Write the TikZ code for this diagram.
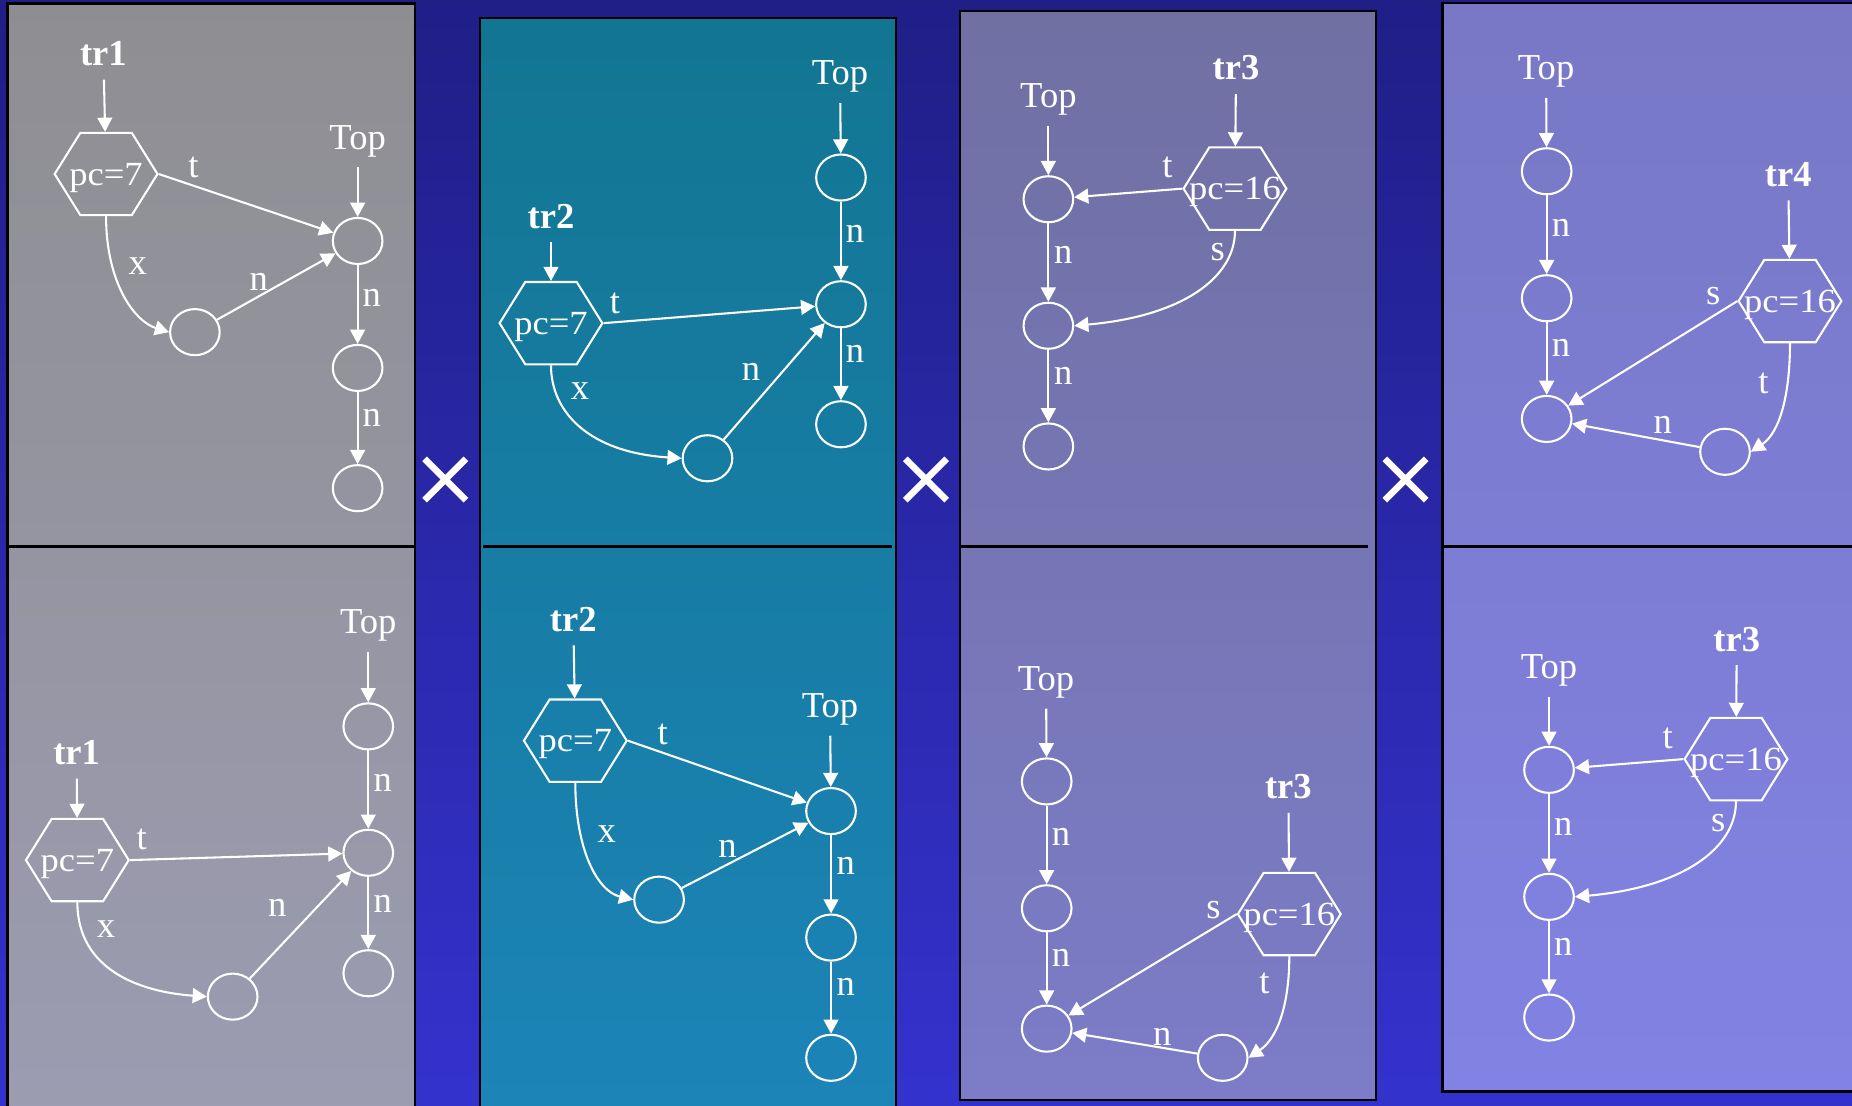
\documentclass[tikz,border=0pt]{standalone}
\usepackage{fontspec}
\setmainfont{Liberation Serif}
\usetikzlibrary{arrows.meta,shapes.geometric}
\definecolor{bgtop}{RGB}{32,30,135}
\definecolor{bgbot}{RGB}{52,50,205}
\definecolor{pAtop}{RGB}{142,142,146}
\definecolor{pAbot}{RGB}{156,156,178}
\definecolor{pBtop}{RGB}{18,118,146}
\definecolor{pBbot}{RGB}{28,132,184}
\definecolor{pCtop}{RGB}{112,112,163}
\definecolor{pCbot}{RGB}{124,124,200}
\definecolor{pDtop}{RGB}{120,120,198}
\definecolor{pDbot}{RGB}{130,130,228}

\begin{document}
\begin{tikzpicture}[x=0.01cm,y=-0.01cm,
  every node/.style={text=white,font=\fontsize{8.8}{10}\selectfont},
  lbl/.style={inner sep=0.11cm,text height=0.235cm,text depth=0.037cm},
  trlbl/.style={inner sep=0.11cm,font=\fontsize{8.8}{10}\selectfont\bfseries},
  hexnode/.style={draw=white,line width=0.5pt,regular polygon,regular polygon sides=6,minimum size=0.87cm,inner sep=0pt,text height=0.24cm,text depth=0.035cm,yscale=0.925},
  dot/.style={draw=white,line width=0.5pt,ellipse,minimum width=0.42cm,minimum height=0.39cm,inner sep=0pt},
  elbl/.style={inner sep=0pt},
  arr/.style={white,line width=0.5pt,-{Triangle[length=0.12cm,width=0.125cm]}},
  panel/.style={draw=black,line width=0.6pt},
  cross/.style={white,line width=0.055cm}]
\useasboundingbox (0,0) rectangle (1568,936);
\clip (0,0) rectangle (1568,936);
\shade[top color=bgtop,bottom color=bgbot] (0,0) rectangle (1568,936);
\shade[panel,top color=pAtop,bottom color=pAbot] (6.2,3) rectangle (351.4,950);
\shade[panel,top color=pBtop,bottom color=pBbot] (406.4,15.1) rectangle (758.6,950);
\shade[panel,top color=pCtop,bottom color=pCbot] (812.8,9.1) rectangle (1165,931.5);
\shade[panel,top color=pDtop,bottom color=pDbot] (1221.5,2.4) rectangle (1590,924);
\draw[panel] (6.2,462.6) -- (351.4,462.6);
\draw[panel] (409,462.6) -- (755,462.6);
\draw[panel] (813,462.6) -- (1158,462.6);
\draw[panel] (1221.5,462.6) -- (1590,462.6);
\draw[cross] (359.5,388.5) -- (394.5,423.5) (359.5,423.5) -- (394.5,388.5);
\draw[cross] (766.5,388.5) -- (801.5,423.5) (766.5,423.5) -- (801.5,388.5);
\draw[cross] (1172.5,388.5) -- (1207.5,423.5) (1172.5,423.5) -- (1207.5,388.5);

\node[trlbl] (Atr) at (87.5,45.4) {tr1};
\node[hexnode] (Ahex) at (89.8,147.3) {\makebox[0pt]{pc=7}};
\node[lbl] (Atop) at (302.8,116.4) {Top};
\node[dot] (A1) at (302.8,204) {};
\node[dot] (A2) at (302.8,311.5) {};
\node[dot] (A3) at (302.8,413.3) {};
\node[dot] (Ab) at (165,281.2) {};
\node[elbl] (At) at (163.7,142) {t};
\node[elbl] (Ax) at (116.6,225.3) {x};
\node[elbl] (An1) at (219,239) {n};
\node[elbl] (An2) at (314.7,252.5) {n};
\node[elbl] (An3) at (314.7,353.8) {n};
\draw[arr] (Atr) -- (Ahex);
\draw[arr] (Atop) -- (A1);
\draw[arr] (A1) -- (A2);
\draw[arr] (A2) -- (A3);
\draw[arr] (Ahex.east) -- (A1);
\draw[arr] (Ahex.south) .. controls +(0,57) and +(-29,-9) .. (Ab.west);
\draw[arr] (Ab) -- (A1);

\node[trlbl] (Btr) at (64.9,637.2) {tr1};
\node[hexnode] (Bhex) at (65.5,728.2) {\makebox[0pt]{pc=7}};
\node[lbl] (Btop) at (311.8,526.8) {Top};
\node[dot] (B1) at (311.8,615) {};
\node[dot] (B2) at (311.8,722) {};
\node[dot] (B3) at (311.8,824) {};
\node[dot] (Bb) at (197,843.8) {};
\node[elbl] (Bt) at (120,710.4) {t};
\node[elbl] (Bx) at (89.7,786.7) {x};
\node[elbl] (Bn1) at (234.8,769) {n};
\node[elbl] (Bn2) at (324,663) {n};
\node[elbl] (Bn3) at (324,765.4) {n};
\draw[arr] (Btr) -- (Bhex);
\draw[arr] (Btop) -- (B1);
\draw[arr] (B1) -- (B2);
\draw[arr] (B2) -- (B3);
\draw[arr] (Bhex.east) -- (B2);
\draw[arr] (Bhex.south) .. controls +(0,57) and +(-57,-4) .. (Bb.west);
\draw[arr] (Bb) -- (B2);

\node[trlbl] (Ctr) at (466.5,183) {tr2};
\node[hexnode] (Chex) at (466.5,273.6) {\makebox[0pt]{pc=7}};
\node[lbl] (Ctop) at (711.2,62) {Top};
\node[dot] (C1) at (712,150.3) {};
\node[dot] (C2) at (712,257.6) {};
\node[dot] (C3) at (712,359.2) {};
\node[dot] (Cb) at (599,388) {};
\node[elbl] (Ct) at (520.7,257) {t};
\node[elbl] (Cx) at (491,331) {x};
\node[elbl] (Cn1) at (635.9,314.5) {n};
\node[elbl] (Cn2) at (724,198) {n};
\node[elbl] (Cn3) at (724,299.4) {n};
\draw[arr] (Ctr) -- (Chex);
\draw[arr] (Ctop) -- (C1);
\draw[arr] (C1) -- (C2);
\draw[arr] (C2) -- (C3);
\draw[arr] (Chex.east) -- (C2);
\draw[arr] (Chex.south) .. controls +(0,40) and +(-78,-5) .. (Cb.west);
\draw[arr] (Cb) -- (C2);

\node[trlbl] (Dtr) at (485.4,524.3) {tr2};
\node[hexnode] (Dhex) at (487.1,627.1) {\makebox[0pt]{pc=7}};
\node[lbl] (Dtop) at (702.7,597.6) {Top};
\node[dot] (D1) at (703.6,686.7) {};
\node[dot] (D2) at (703.6,793.8) {};
\node[dot] (D3) at (703.6,895.6) {};
\node[dot] (Db) at (558,761.7) {};
\node[elbl] (Dt) at (561,622) {t};
\node[elbl] (Dx) at (513.7,705.9) {x};
\node[elbl] (Dn1) at (616,719) {n};
\node[elbl] (Dn2) at (716,733.2) {n};
\node[elbl] (Dn3) at (716,835.5) {n};
\draw[arr] (Dtr) -- (Dhex);
\draw[arr] (Dtop) -- (D1);
\draw[arr] (D1) -- (D2);
\draw[arr] (D2) -- (D3);
\draw[arr] (Dhex.east) -- (D1);
\draw[arr] (Dhex.south) .. controls +(0,57) and +(-30,-7) .. (Db.west);
\draw[arr] (Db) -- (D1);

\node[trlbl] (Etr) at (1046.5,57.5) {tr3};
\node[hexnode] (Ehex) at (1045.6,159.7) {\makebox[0pt]{pc=16}};
\node[lbl] (Etop) at (887.6,81) {Top};
\node[dot] (E1) at (887.6,168.7) {};
\node[dot] (E2) at (887.6,275.8) {};
\node[dot] (E3) at (887.6,378) {};
\node[elbl] (Et) at (988.4,142) {t};
\node[elbl] (Es) at (1031,213) {s};
\node[elbl] (En2) at (900.3,216) {n};
\node[elbl] (En3) at (900.3,318.4) {n};
\draw[arr] (Etr) -- (Ehex);
\draw[arr] (Etop) -- (E1);
\draw[arr] (E1) -- (E2);
\draw[arr] (E2) -- (E3);
\draw[arr] (Ehex.west) -- (E1);
\draw[arr] (Ehex.south) .. controls +(0,40) and +(91,-8) .. (E2.east);

\node[trlbl] (Ftr) at (1090.8,666.2) {tr3};
\node[hexnode] (Fhex) at (1091.6,773.9) {\makebox[0pt]{pc=16}};
\node[lbl] (Ftop) at (885.6,574.6) {Top};
\node[dot] (F1) at (886.2,661.6) {};
\node[dot] (F2) at (886.2,769) {};
\node[dot] (F3) at (886.2,870.9) {};
\node[dot] (Fb) at (1035.2,895.6) {};
\node[elbl] (Fs) at (1027.3,770.9) {s};
\node[elbl] (Ft) at (1070.5,832.4) {t};
\node[elbl] (Fn1) at (984.1,878.2) {n};
\node[elbl] (Fn2) at (898.3,708.9) {n};
\node[elbl] (Fn3) at (898.3,811) {n};
\draw[arr] (Ftr) -- (Fhex);
\draw[arr] (Ftop) -- (F1);
\draw[arr] (F1) -- (F2);
\draw[arr] (F2) -- (F3);
\draw[arr] (Fhex.west) -- (F3);
\draw[arr] (Fhex.south) .. controls +(0,40) and +(25,-17) .. (Fb.east);
\draw[arr] (Fb) -- (F3);

\node[trlbl] (Gtr) at (1514,147.6) {tr4};
\node[hexnode] (Ghex) at (1515.5,254.9) {\makebox[0pt]{pc=16}};
\node[lbl] (Gtop) at (1309,57.5) {Top};
\node[dot] (G1) at (1309.5,145) {};
\node[dot] (G2) at (1309.5,252.5) {};
\node[dot] (G3) at (1309.5,354.7) {};
\node[dot] (Gb) at (1460.5,382.5) {};
\node[elbl] (Gs) at (1450.6,251) {s};
\node[elbl] (Gt) at (1493,325) {t};
\node[elbl] (Gn1) at (1407.7,359.8) {n};
\node[elbl] (Gn2) at (1321.7,193) {n};
\node[elbl] (Gn3) at (1321.7,294.7) {n};
\draw[arr] (Gtr) -- (Ghex);
\draw[arr] (Gtop) -- (G1);
\draw[arr] (G1) -- (G2);
\draw[arr] (G2) -- (G3);
\draw[arr] (Ghex.west) -- (G3);
\draw[arr] (Ghex.south) .. controls +(0,45) and +(24,-16) .. (Gb.east);
\draw[arr] (Gb) -- (G3);

\node[trlbl] (Htr) at (1470.4,541.1) {tr3};
\node[hexnode] (Hhex) at (1469.8,642.7) {\makebox[0pt]{pc=16}};
\node[lbl] (Htop) at (1311.5,564.6) {Top};
\node[dot] (H1) at (1311.5,651.8) {};
\node[dot] (H2) at (1311.5,759.3) {};
\node[dot] (H3) at (1311.5,861.5) {};
\node[elbl] (Ht) at (1412,625) {t};
\node[elbl] (Hs) at (1454.8,696.7) {s};
\node[elbl] (Hn2) at (1323.6,699.8) {n};
\node[elbl] (Hn3) at (1323.6,802) {n};
\draw[arr] (Htr) -- (Hhex);
\draw[arr] (Htop) -- (H1);
\draw[arr] (H1) -- (H2);
\draw[arr] (H2) -- (H3);
\draw[arr] (Hhex.west) -- (H1);
\draw[arr] (Hhex.south) .. controls +(0,40) and +(91,-8) .. (H2.east);
\end{tikzpicture}
\end{document}
